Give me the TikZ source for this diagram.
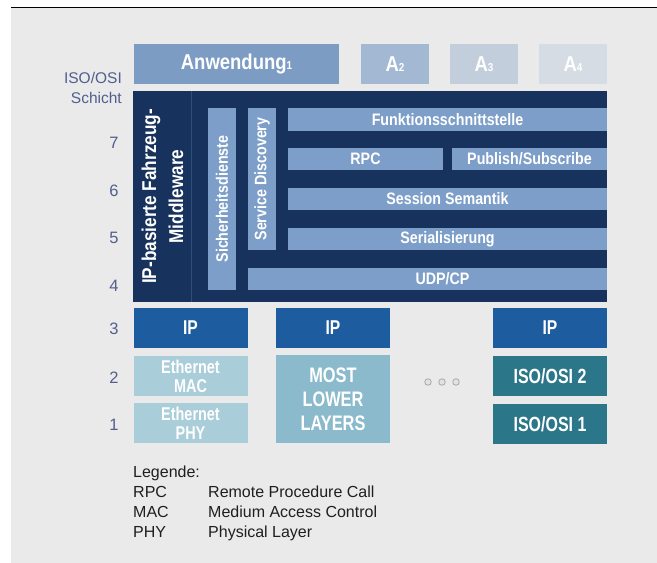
\documentclass[tikz,border=0pt]{standalone}
\usepackage{fontspec}
\setmainfont{Liberation Sans}
\newfontfamily\condfont[FakeStretch=0.86]{Liberation Sans}
\newfontfamily\narrowfont[FakeStretch=0.78]{Liberation Sans}
\definecolor{bggray}{HTML}{EAEAEA}
\definecolor{appA}{HTML}{7D9CC3}
\definecolor{appB}{HTML}{A3B8D2}
\definecolor{appC}{HTML}{C3CEDC}
\definecolor{appD}{HTML}{D6DCE3}
\definecolor{navy}{HTML}{17325C}
\definecolor{navyline}{HTML}{2E4E7C}
\definecolor{lightblue}{HTML}{7C9EC8}
\definecolor{ipblue}{HTML}{1D5D9F}
\definecolor{ethblue}{HTML}{A9CDD9}
\definecolor{mostblue}{HTML}{8ABACC}
\definecolor{isoteal}{HTML}{2B7789}
\definecolor{layertext}{HTML}{525E8E}
\definecolor{dotgray}{HTML}{A8A8A8}
\definecolor{dotfill}{HTML}{E2E2E2}
\begin{document}
\begin{tikzpicture}[x=1pt, y=-1pt,
    box/.style={inner sep=0pt, text=white, fill=lightblue, font=\condfont\bfseries\fontsize{16.6}{18}\selectfont},
    lowbox/.style={box, align=center, minimum width=114, minimum height=40, font=\narrowfont\bfseries\fontsize{20}{20}\selectfont},
    layer/.style={text=layertext, font=\fontsize{16.5}{20}\selectfont},
    legend/.style={anchor=base west, inner sep=0pt, text=black!88, font=\fontsize{16}{18}\selectfont}]
    \useasboundingbox (0,0) rectangle (657,563);
    \fill[bggray] (11,8) rectangle (657,563);
    \draw[black, line width=1pt] (11,7.5) -- (657,7.5);

    \node[box, fill=appA, minimum width=205, minimum height=40, font=\condfont\bfseries\fontsize{21.5}{22}\selectfont] (anw) at (236.5,64) {Anwendung{\fontsize{11.5}{11}\selectfont 1}};
    \foreach \i/\x/\c in {2/395/appB, 3/484/appC, 4/573/appD} {
        \node[box, fill=\c, minimum width=68, minimum height=40, font=\condfont\bfseries\fontsize{21.5}{22}\selectfont] (a\i) at (\x,64) {A{\fontsize{11.5}{11}\selectfont\i}};
    }

    \node[fill=navy, inner sep=0pt, minimum width=415, minimum height=211] (mwstack) at (399.5,196.5) {};
    \node[box, fill=navy, rotate=90, align=center, minimum width=211, minimum height=59, font=\condfont\bfseries\fontsize{20}{27}\selectfont] (mwlabel) at (162.5,196.5) {IP-basierte Fahrzeug-\\Middleware};
    \draw[navyline, line width=1.2pt] (mwstack.north west) -- (mwstack.south west);

    \node[box, rotate=90, minimum width=182, minimum height=28] (sich) at (222,199) {Sicherheitsdienste};
    \node[box, rotate=90, minimum width=142, minimum height=28] (sd) at (262,179) {Service Discovery};
    \node[box, minimum width=319, minimum height=23] (funk) at (447.5,119.5) {Funktionsschnittstelle};
    \node[box, minimum width=155, minimum height=22] (rpc) at (365.5,159) {RPC};
    \node[box, minimum width=155, minimum height=22] (pubsub) at (529.5,159) {Publish/Subscribe};
    \node[box, minimum width=319, minimum height=22] (sess) at (447.5,199) {Session Semantik};
    \node[box, minimum width=319, minimum height=22] (ser) at (447.5,239) {Serialisierung};
    \node[box, minimum width=359, minimum height=22] (udp) at (427.5,279) {\hspace*{30pt}UDP/CP};

    \foreach \n/\x in {ip1/190.5, ip2/333, ip3/550} {
        \node[lowbox, fill=ipblue] (\n) at (\x,328) {IP};
    }
    \node[lowbox, fill=ethblue, font=\narrowfont\bfseries\fontsize{18.5}{19}\selectfont] (ethmac) at (190.5,376) {Ethernet\\MAC};
    \node[lowbox, fill=ethblue, font=\narrowfont\bfseries\fontsize{18.5}{19}\selectfont] (ethphy) at (190.5,423) {Ethernet\\PHY};
    \node[lowbox, fill=mostblue, minimum height=88, font=\narrowfont\bfseries\fontsize{21}{24}\selectfont] (most) at (333,399) {MOST\\LOWER\\LAYERS};
    \node[lowbox, fill=isoteal, font=\narrowfont\bfseries\fontsize{20.5}{22}\selectfont] (iso2) at (550,376) {ISO/OSI 2};
    \node[lowbox, fill=isoteal, font=\narrowfont\bfseries\fontsize{20.5}{22}\selectfont] (iso1) at (550,424) {ISO/OSI 1};
    \foreach \x [count=\k] in {428,442,456} {
        \node[circle, draw=dotgray, fill=dotfill, line width=0.8pt, inner sep=0pt, minimum size=6.5] (dot\k) at (\x,382) {};
    }

    \node[layer, anchor=east, align=right, inner sep=0pt, font=\fontsize{15.5}{20}\selectfont] (schicht) at (122,88) {ISO/OSI\\Schicht};
    \foreach \n/\y in {7/143, 6/191, 5/238, 4/286, 3/329, 2/378, 1/425} {
        \node[layer] (l\n) at (114,\y) {\n};
    }

    \node[legend] (leg) at (133,477) {Legende:};
    \foreach \k/\t [count=\r] in {RPC/Remote Procedure Call, MAC/Medium Access Control, PHY/Physical Layer} {
        \node[legend] (key\r) at (133,477+\r*20) {\k};
        \node[legend] (txt\r) at (208,477+\r*20) {\t};
    }
\end{tikzpicture}
\end{document}
